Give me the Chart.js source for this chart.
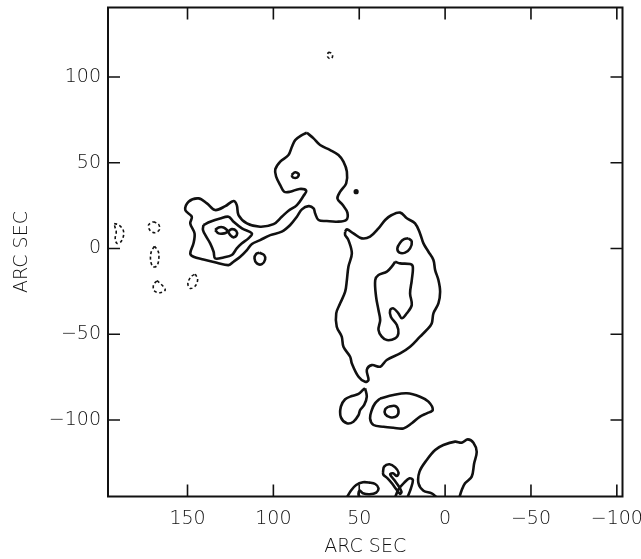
<!DOCTYPE html>
<html>
<head>
<meta charset="utf-8">
<script src="https://cdn.jsdelivr.net/npm/chart.js@4"></script>
<style>
  body { margin: 0; background: #fff; }
</style>
</head>
<body>
<canvas id="chart" width="641" height="559"></canvas>
<script>
// tick labels (arc sec)
var xTicks = [150, 100, 50, 0, -50, -100];
var yTicks = [100, 50, 0, -50, -100];

// solid contours, [x, y] in arc sec
var blobOuter = [[80.5,67.5],[76.6,64.2],[72.8,60.3],[66.9,57.4],[62.1,54.5],[59.2,50.6],[57.2,44.8],[57.6,38.0],[61.1,33.1],[62.7,29.2],[59.6,25.3],[56.9,20.9],[57.6,16.6],[63.1,15.6],[68.9,16.0],[73.7,16.6],[75.7,20.5],[76.6,23.4],[79.5,24.7],[83.4,22.8],[86.3,18.5],[90.2,13.7],[95.1,9.8],[101.8,7.8],[107.7,4.9],[112.5,2.6],[115.4,-0.9],[119.3,-4.8],[123.2,-7.7],[126.1,-9.7],[132.9,-8.3],[140.7,-6.4],[146.5,-4.8],[148.4,-2.9],[146.5,3.0],[145.9,8.8],[148.4,14.6],[147.5,18.5],[151.3,22.4],[149.4,27.3],[143.6,29.2],[138.7,26.3],[133.9,22.4],[128.0,24.7],[123.2,27.7],[121.3,25.3],[120.3,19.5],[115.4,14.6],[107.7,12.7],[99.9,14.2],[95.1,18.5],[91.2,22.0],[86.3,25.3],[82.5,30.6],[80.9,33.7],[84.8,34.7],[90.2,33.1],[93.7,33.1],[96.0,37.0],[98.4,41.9],[98.9,46.1],[96.0,50.6],[91.2,54.5],[89.2,59.3],[87.3,63.2],[83.4,66.1]];
var leftInner = [[140.7,13.7],[136.8,15.6],[131.0,17.5],[126.1,18.5],[123.2,15.6],[118.3,11.7],[112.5,8.8],[114.5,5.9],[118.3,3.0],[121.3,0.05],[124.2,-3.8],[129.0,-5.2],[133.9,-5.8],[134.8,-1.9],[136.8,3.0],[139.1,6.9],[141.0,10.8]];
var leftCore = [[133.9,10.8],[131.9,12.3],[129.0,12.3],[127.1,10.8],[125.1,7.8],[123.2,6.5],[121.3,7.8],[121.6,10.2],[124.2,11.3],[126.5,9.8],[128.6,8.8],[131.9,8.8]];
var bridgeOval = [[108.1,-2.5],[105.4,-3.8],[104.8,-6.4],[106.7,-9.1],[109.6,-8.7],[111.0,-5.8],[110.0,-3.2]];
var topOval = [[89.4,42.8],[87.3,44.4],[85.2,43.2],[86.3,41.3],[88.7,41.5]];
var rightOuter = [[58.2,9.8],[57.2,11.2],[53.4,8.8],[48.5,5.9],[43.7,6.9],[38.8,11.7],[34.9,16.6],[31.1,19.5],[26.2,20.9],[22.3,17.6],[17.5,14.7],[14.6,8.8],[12.6,3.0],[9.7,-1.9],[6.8,-6.7],[5.8,-12.6],[3.9,-18.4],[2.9,-25.2],[3.9,-32.0],[6.8,-37.8],[7.8,-43.7],[10.7,-47.5],[14.6,-51.4],[20.4,-57.3],[26.2,-61.2],[34.0,-65.0],[37.8,-68.9],[42.7,-68.0],[45.6,-70.9],[44.6,-76.7],[46.6,-77.7],[50.4,-74.8],[54.3,-67.0],[55.3,-63.1],[59.2,-57.3],[60.2,-51.4],[63.1,-45.6],[63.4,-37.8],[61.1,-32.0],[58.2,-25.2],[57.2,-18.4],[56.3,-10.6],[54.3,-2.8],[56.3,4.9],[58.2,7.9]];
var rightInner = [[29.1,-7.7],[26.2,-8.7],[20.4,-9.1],[18.8,-10.6],[19.4,-18.4],[20.4,-26.2],[19.4,-33.0],[22.3,-37.8],[25.2,-40.7],[27.2,-37.8],[30.1,-34.9],[32.0,-35.9],[31.6,-39.8],[28.1,-44.6],[27.2,-49.5],[29.1,-52.4],[33.9,-53.4],[36.9,-51.4],[38.8,-47.5],[37.8,-41.7],[38.8,-35.9],[40.2,-28.1],[40.7,-18.4],[38.8,-15.5],[33.9,-13.5],[31.1,-10.6]];
var rightOval = [[21.3,5.9],[19.4,4.0],[20.4,0.1],[23.3,-2.4],[26.6,-2.4],[27.8,0.1],[26.2,3.4],[23.9,5.5]];
var southA = [[46.6,-81.5],[45.6,-86.4],[47.1,-91.2],[49.5,-94.2],[50.4,-97.1],[53.4,-101.0],[57.2,-101.9],[60.7,-98.4],[60.7,-92.2],[58.2,-87.9],[54.3,-86.0],[50.4,-84.8],[47.9,-82.5]];
var southB = [[37.8,-87.4],[30.1,-85.4],[22.3,-84.4],[14.6,-86.4],[9.7,-89.3],[7.2,-94.2],[10.7,-96.1],[14.6,-98.0],[19.4,-101.9],[24.3,-104.9],[30.1,-104.5],[35.9,-103.9],[41.7,-102.9],[43.7,-99.0],[42.7,-94.2],[40.8,-90.3]];
var southBCore = [[33.0,-92.2],[29.1,-91.8],[27.2,-94.2],[28.1,-97.7],[32.0,-98.4],[34.9,-96.5],[34.9,-93.8]];
var hook = [[36.2,-130.7],[35.5,-127.2],[32.4,-125.8],[29.1,-127.6],[27.1,-130.7],[28.1,-132.6],[30.4,-131.1],[32.0,-131.7],[29.6,-135.0],[27.1,-138.5],[25.4,-141.8],[26.2,-143.1],[28.1,-140.8],[31.0,-136.9],[33.5,-134.0],[35.9,-132.0]];
// open contours running off the bottom edge
var edgeBig = [[4.9,-145.1],[7.8,-142.8],[12.6,-141.2],[15.5,-136.9],[14.9,-130.1],[10.7,-123.3],[5.8,-117.5],[1.0,-114.6],[-5.8,-112.6],[-9.7,-113.2],[-13.2,-111.3],[-16.5,-113.2],[-18.4,-118.5],[-16.9,-125.3],[-15.5,-133.0],[-11.6,-136.9],[-9.7,-140.8],[-8.3,-145.1]];
var edgeThin = [[29.1,-145.1],[27.1,-140.4],[23.8,-136.5],[20.7,-134.0],[18.8,-135.0],[19.9,-139.8],[21.9,-145.1]];
var edgeLeft = [[57.2,-145.1],[54.9,-141.2],[51.8,-137.9],[47.9,-136.3],[44.0,-136.5],[40.7,-137.3],[38.8,-139.8],[40.1,-142.3],[44.0,-143.3],[47.9,-142.7],[49.8,-141.2],[50.4,-143.7],[49.4,-145.1]];
// dashed (negative) contours
var neg1 = [[192.7,14.6],[190.1,13.7],[187.6,11.1],[187.2,7.8],[188.8,3.9],[191.1,3.0],[192.1,5.9],[191.5,9.8],[192.3,12.7]];
var neg2 = [[169.8,15.6],[166.9,14.2],[166.3,11.1],[168.8,9.2],[171.7,10.4],[172.7,13.7]];
var neg3 = [[169.2,1.4],[167.0,-1.9],[166.7,-5.8],[167.8,-10.1],[170.1,-10.6],[171.5,-6.8],[171.1,-1.9]];
var neg4 = [[167.8,-18.8],[164.9,-21.3],[163.0,-24.2],[165.9,-25.8],[169.4,-24.6],[169.8,-21.3]];
var neg5 = [[145.5,-14.9],[144.1,-18.0],[145.5,-21.9],[148.4,-23.3],[149.8,-20.4],[148.0,-16.5]];
var neg6 = [[68.0,114.5],[66.0,113.6],[65.6,111.6],[67.0,110.6],[68.5,112.0]];
// single peak marked with a dot
var dots = [[51.8,33.1]];

var ink = '#111';

function line(pts, closed, dashed) {
  var d = pts.map(function (p) { return { x: p[0], y: p[1] }; });
  if (closed) d.push({ x: pts[0][0], y: pts[0][1] });
  return {
    data: d,
    showLine: true,
    borderColor: ink,
    borderWidth: dashed ? 1.6 : 2.6,
    borderDash: dashed ? [3, 2.5] : [],
    pointRadius: 0,
    tension: 0.35,
    fill: false
  };
}

var datasets = [
  line(blobOuter, true), line(leftInner, true), line(leftCore, true),
  line(bridgeOval, true), line(topOval, true),
  line(rightOuter, true), line(rightInner, true), line(rightOval, true),
  line(southA, true), line(southB, true), line(southBCore, true), line(hook, true),
  line(edgeBig, false), line(edgeThin, false), line(edgeLeft, false),
  line(neg1, true, true), line(neg2, true, true), line(neg3, true, true),
  line(neg4, true, true), line(neg5, true, true), line(neg6, true, true),
  {
    data: dots.map(function (p) { return { x: p[0], y: p[1] }; }),
    showLine: false, pointRadius: 2.6, pointBackgroundColor: ink, pointBorderWidth: 0
  }
];

var labelFont = { family: 'DejaVu Sans', size: 19, weight: 200 };
function fmt(v) { return v < 0 ? '\u2212' + Math.abs(v) : String(v); }

// box frame plus inward ticks on all four sides
var frame = {
  id: 'frame',
  afterDatasetsDraw: function (chart) {
    var ctx = chart.ctx, a = chart.chartArea, sx = chart.scales.x, sy = chart.scales.y;
    ctx.save();
    ctx.strokeStyle = ink;
    ctx.lineWidth = 2;
    ctx.strokeRect(a.left, a.top, a.width, a.height);
    ctx.lineWidth = 1.6;
    ctx.beginPath();
    xTicks.forEach(function (v) {
      var p = sx.getPixelForValue(v);
      ctx.moveTo(p, a.bottom); ctx.lineTo(p, a.bottom - 12);
      ctx.moveTo(p, a.top); ctx.lineTo(p, a.top + 12);
    });
    yTicks.forEach(function (v) {
      var p = sy.getPixelForValue(v);
      ctx.moveTo(a.left, p); ctx.lineTo(a.left + 12, p);
      ctx.moveTo(a.right, p); ctx.lineTo(a.right - 12, p);
    });
    ctx.stroke();
    ctx.restore();
  }
};

new Chart(document.getElementById('chart'), {
  type: 'scatter',
  data: { datasets: datasets },
  options: {
    responsive: false,
    animation: false,
    layout: { padding: { top: 7.5, right: 18.5, left: 0, bottom: 0 } },
    plugins: { legend: { display: false }, tooltip: { enabled: false } },
    scales: {
      x: {
        type: 'linear', reverse: true, min: -103.3, max: 196.3,
        afterBuildTicks: function (s) { s.ticks = xTicks.map(function (v) { return { value: v }; }); },
        afterFit: function (s) { s.height = 62.5; s.paddingLeft = 0; s.paddingRight = 0; },
        grid: { display: false, drawTicks: false },
        border: { display: false },
        ticks: { padding: 11, font: labelFont, color: ink, maxRotation: 0, autoSkip: false, callback: fmt },
        title: { display: true, text: 'ARC SEC', font: labelFont, color: ink, padding: { top: 2, bottom: 1 } }
      },
      y: {
        type: 'linear', min: -144.6, max: 140.5,
        afterBuildTicks: function (s) { s.ticks = yTicks.map(function (v) { return { value: v }; }); },
        afterFit: function (s) { s.width = 108; s.paddingTop = 0; s.paddingBottom = 0; },
        grid: { display: false, drawTicks: false },
        border: { display: false },
        ticks: { padding: 7, font: labelFont, color: ink, autoSkip: false, callback: fmt },
        title: { display: true, text: 'ARC SEC', font: labelFont, color: ink, padding: { top: 11, bottom: 4 } }
      }
    }
  },
  plugins: [frame]
});
</script>
</body>
</html>
